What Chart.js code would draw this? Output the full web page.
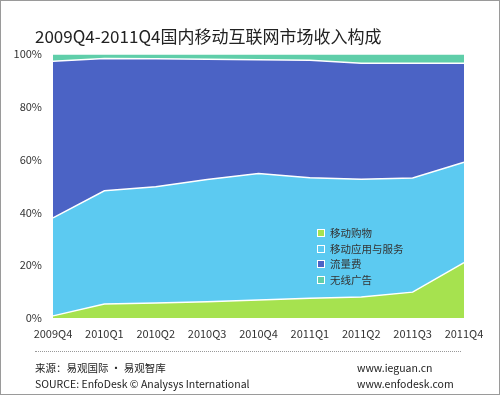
<!DOCTYPE html>
<html>
<head>
<meta charset="utf-8">
<script src="https://cdn.jsdelivr.net/npm/chart.js@4"></script>
<style>
  html, body { margin: 0; padding: 0; background: #fff; }
  body { width: 500px; height: 395px; position: relative; overflow: hidden;
         font-family: "Noto Sans CJK SC", "Noto Sans", sans-serif; color: #333; }
  .frame { position: absolute; left: 0; top: 0; width: 500px; height: 395px;
           box-sizing: border-box; border: 1px solid #9a9a9a; pointer-events: none; }
  #wrap { position: absolute; left: 0; top: 0; width: 500px; height: 395px; }
  .title { position: absolute; left: 35px; top: 23px; font-size: 17px; color: #222; white-space: nowrap; }
  .legend { position: absolute; left: 317px; top: 225px; font-size: 10.5px; color: #333; }
  .legend div { height: 15.5px; line-height: 15.5px; white-space: nowrap; }
  .legend span { display: inline-block; width: 6px; height: 6px; margin-right: 5px;
                 border: 1px solid #fff; vertical-align: 0px; }
  .rule { position: absolute; left: 35px; top: 351px; width: 426px; border-top: 1px dotted #999; }
  .foot { position: absolute; font-size: 10.5px; color: #222; white-space: nowrap; }
</style>
</head>
<body>
<div id="wrap"><canvas id="chart" width="500" height="395"></canvas></div>
<div class="title">2009Q4-2011Q4国内移动互联网市场收入构成</div>
<div class="legend" id="legend"></div>
<div class="rule"></div>
<div class="foot" style="left:35px; top:360px;">来源：易观国际 · 易观智库</div>
<div class="foot" style="left:35px; top:376px;">SOURCE: EnfoDesk © Analysys International</div>
<div class="foot" style="left:357px; top:360px;">www.ieguan.cn</div>
<div class="foot" style="left:357px; top:376px;">www.enfodesk.com</div>
<div class="frame"></div>
<script>
// 季度
const quarters = ['2009Q4', '2010Q1', '2010Q2', '2010Q3', '2010Q4', '2011Q1', '2011Q2', '2011Q3', '2011Q4'];

// 各部分占比 (%)
const shopping = [0.8, 5.3, 5.7, 6.2, 6.8, 7.5, 8.0, 9.8, 21.0];
const appsServices = [37.1, 42.9, 44.0, 46.3, 47.9, 45.6, 44.6, 43.2, 38.0];
const trafficFees = [59.4, 50.1, 48.5, 45.5, 43.1, 44.5, 43.9, 43.5, 37.5];
const wirelessAds = [2.7, 1.7, 1.8, 2.0, 2.2, 2.4, 3.5, 3.5, 3.5];

const yTicks = [0, 20, 40, 60, 80, 100];

const series = [
    { label: '移动购物', data: shopping, color: '#a6e24f' },
    { label: '移动应用与服务', data: appsServices, color: '#5ccaf1' },
    { label: '流量费', data: trafficFees, color: '#4b63c5' },
    { label: '无线广告', data: wirelessAds, color: '#5fcea9' }
];

const legendBox = document.getElementById('legend');
series.forEach(s => {
    const row = document.createElement('div');
    row.innerHTML = '<span style="background:' + s.color + '"></span>' + s.label;
    legendBox.appendChild(row);
});

new Chart(document.getElementById('chart'), {
    type: 'line',
    data: {
        labels: quarters,
        datasets: series.map((s, i) => ({
            label: s.label,
            data: s.data,
            backgroundColor: s.color,
            borderColor: '#ffffff',
            borderWidth: 1.5,
            pointRadius: 0,
            tension: 0,
            fill: i === 0 ? 'origin' : '-1'
        }))
    },
    options: {
        responsive: false,
        animation: false,
        layout: { padding: { left: 0, top: 54, right: 36, bottom: 52 } },
        plugins: { legend: { display: false }, tooltip: { enabled: false } },
        scales: {
            x: {
                offset: false,
                grid: { display: false },
                border: { display: false },
                ticks: {
                    color: '#333',
                    font: { size: 11, family: 'Noto Sans CJK SC' },
                    padding: 1,
                    maxRotation: 0,
                    autoSkip: false
                },
                afterFit: scale => { scale.height = 25; }
            },
            y: {
                stacked: true,
                min: 0,
                max: 100,
                afterBuildTicks: scale => { scale.ticks = yTicks.map(v => ({ value: v })); },
                grid: { display: false },
                border: { display: false },
                ticks: {
                    color: '#333',
                    font: { size: 11, family: 'Noto Sans CJK SC' },
                    padding: 3,
                    callback: v => v + '%'
                },
                afterFit: scale => { scale.width = 53; }
            }
        }
    }
});
</script>
</body>
</html>
